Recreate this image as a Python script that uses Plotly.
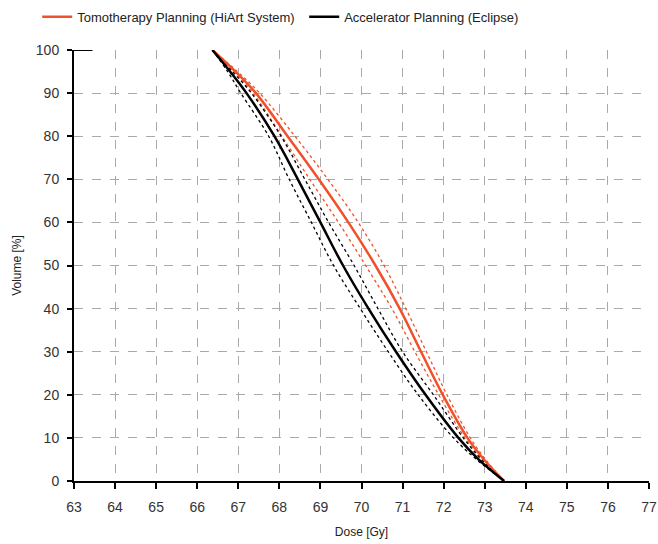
import plotly.graph_objects as go

volume = [100, 95, 90, 80, 70, 60, 50, 40, 30, 20, 10, 5, 0]
tomo_dose = [66.37, 66.93, 67.43, 68.2, 68.96, 69.68, 70.34, 70.93, 71.45, 71.98, 72.58, 72.98, 73.47]
tomo_low = [66.37, 66.9, 67.36, 68.06, 68.74, 69.44, 70.1, 70.74, 71.3, 71.88, 72.52, 72.95, 73.47]
tomo_high = [66.37, 66.98, 67.52, 68.38, 69.18, 69.92, 70.55, 71.08, 71.58, 72.08, 72.65, 73.02, 73.47]
ecl_dose = [66.37, 66.8, 67.2, 67.88, 68.45, 69.0, 69.55, 70.17, 70.84, 71.56, 72.36, 72.85, 73.47]
ecl_low = [66.37, 66.74, 67.06, 67.74, 68.24, 68.78, 69.32, 69.97, 70.65, 71.38, 72.24, 72.8, 73.47]
ecl_high = [66.37, 66.86, 67.32, 68.04, 68.62, 69.2, 69.82, 70.4, 71.0, 71.75, 72.48, 72.92, 73.47]
plateau_dose = [63, 63.45]
plateau_vol = [100, 100]
x_ticks = list(range(63, 78))
y_ticks = list(range(0, 101, 10))

RED = "#f0502a"
BLACK = "#000000"
FONT = "Liberation Sans, Arial, sans-serif"

fig = go.Figure()
for xs, c in [(tomo_low, RED), (tomo_high, RED), (ecl_low, BLACK), (ecl_high, BLACK)]:
    fig.add_trace(go.Scatter(x=xs, y=volume, mode="lines", showlegend=False,
                             line=dict(color=c, width=1.3, dash="3px,3px", shape="spline", smoothing=1)))
fig.add_trace(go.Scatter(x=plateau_dose, y=plateau_vol, mode="lines", showlegend=False,
                         line=dict(color=BLACK, width=2)))
fig.add_trace(go.Scatter(x=tomo_dose, y=volume, mode="lines", name="Tomotherapy Planning (HiArt System)",
                         line=dict(color=RED, width=2.5, shape="spline", smoothing=1)))
fig.add_trace(go.Scatter(x=ecl_dose, y=volume, mode="lines", name="Accelerator Planning (Eclipse)",
                         line=dict(color=BLACK, width=2.5, shape="spline", smoothing=1)))

fig.update_layout(
    width=658, height=544,
    margin=dict(l=74, r=9, t=50, b=63, autoexpand=False),
    paper_bgcolor="white", plot_bgcolor="white",
    font=dict(family=FONT, color="#333333"),
    legend=dict(orientation="h", x=-0.064, y=1.077, xanchor="left", yanchor="middle",
                font=dict(size=13, color="#222222"), itemwidth=30,
                entrywidth=222, bgcolor="rgba(0,0,0,0)"),
    xaxis=dict(range=[63, 77], tickmode="array", tickvals=x_ticks, showline=True, linecolor="black", linewidth=2,
               ticks="outside", ticklen=6, tickcolor="black", tickwidth=1.5, ticklabelstandoff=6,
               ticklabeloverflow="allow",
               showgrid=True, gridcolor="#aaaaaa", griddash="dash", gridwidth=1,
               tickfont=dict(size=14), zeroline=False,
               title=dict(text="Dose [Gy]", font=dict(size=12, color="#222222"), standoff=14)),
    yaxis=dict(range=[0, 100], tickmode="array", tickvals=y_ticks, showline=True, linecolor="black", linewidth=2,
               ticks="outside", ticklen=5, tickcolor="black", tickwidth=1.5, ticklabelstandoff=5,
               ticklabeloverflow="allow",
               showgrid=True, gridcolor="#aaaaaa", griddash="dash", gridwidth=1,
               tickfont=dict(size=14), zeroline=False,
               title=dict(text="Volume [%]", font=dict(size=12, color="#222222"), standoff=12)),
)

fig.write_html("out.html")
